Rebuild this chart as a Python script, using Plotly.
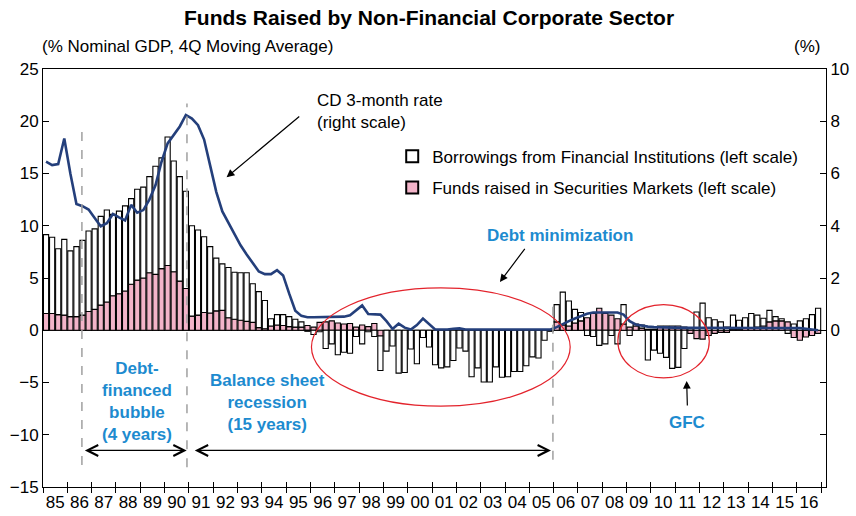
import plotly.graph_objects as go

# Quarterly data 1985Q1 .. 2016Q4 (% of nominal GDP, 4Q moving average)
years = list(range(1985, 2017))
quarters = [y + (q - 0.5) / 4 for y in years for q in range(1, 5)]

securities = [
    1.6, 1.6, 1.5, 1.45, 1.3, 1.3, 1.45, 1.8, 2.0, 2.4, 2.7, 3.3,
    3.5, 3.75, 4.4, 4.8, 5.0, 5.5, 5.35, 5.9, 6.2, 5.6, 4.7, 4.0,
    1.35, 1.45, 1.7, 1.65, 1.85, 1.9, 1.2, 1.05, 0.95, 0.85, 0.75, 0.25,
    0.15, 0.4, 0.5, 0.45, 0.35, 0.3, 0.3, 0.45, 0.3, 0.75, 0.8, 0.9,
    0.7, 0.6, 0.65, 0.3, 0.5, 0.35, 0.65, -0.55, 0.0, 0.0, 0.0, 0.0,
    0.0, 0.0, 0.0, 0.0, 0.0, 0.0, 0.0, 0.0, 0.0, 0.0, 0.0, 0.0,
    0.0, 0.0, 0.0, 0.0, 0.0, 0.0, 0.0, 0.0, 0.0, 0.0, 0.0, 0.0,
    0.8, 0.5, 0.4, 0.7, 0.9, 1.2, 1.6, 2.1, 1.6, 1.45, 1.1, 0.6,
    0.3, 0.4, 0.2, 0.1, 0.1, 0.4, 0.4, 0.4, 0.4, 0.3, -0.3, -0.8,
    -0.85, -0.5, -0.3, -0.2, -0.2, 0.1, 0.1, 0.2, 0.2, 0.3, 0.4, 0.8,
    0.9, 0.9, 0.8, -0.7, -0.95, -0.65, -0.5, -0.3,
]

borrowings = [
    7.55, 7.3, 6.3, 7.25, 6.3, 6.7, 7.15, 7.7, 7.7, 8.5, 8.8, 7.8,
    7.9, 8.15, 8.2, 8.7, 8.7, 9.2, 10.35, 10.6, 12.3, 10.6, 10.0, 9.3,
    8.65, 8.15, 7.25, 6.35, 5.05, 4.45, 4.8, 4.5, 4.55, 4.65, 3.7, 3.45,
    2.7, 0.7, 1.0, 1.05, 0.95, 0.75, 0.5, -0.1, -0.4, -0.15, -1.75, -1.3,
    -2.35, -2.1, -2.2, -0.6, -1.3, -0.15, -0.6, -3.3, -2.0, -1.5, -4.1, -4.05,
    -1.8, -3.2, -0.7, -1.6, -3.3, -3.6, -3.5, -2.9, -1.7, -2.0, -4.45, -3.6,
    -4.95, -4.95, -3.5, -4.5, -4.45, -3.95, -3.95, -3.4, -2.55, -2.65, -0.95, -0.1,
    1.65, 3.15, 2.4, 1.3, 0.8, -0.5, -0.6, -1.45, -1.3, -0.5, -1.3, 1.85,
    -0.5, 0.2, 0.3, -2.85, -1.9, -2.2, -2.6, -3.65, -3.55, -1.75, 0.15, 1.75,
    2.6, 1.2, 1.0, 0.8, 0.3, 1.35, 0.85, 1.0, 1.4, 1.15, 0.75, 1.1,
    0.4, 0.2, -0.3, 0.6, 0.9, 1.1, 1.5, 2.1,
]

cd_rate = [
    6.45, 6.32, 6.36, 7.34, 6.0, 4.83, 4.75, 4.62, 4.3, 3.98, 4.1, 4.45,
    4.32, 4.2, 4.8, 4.5, 4.6, 5.0, 5.55, 6.45, 7.15, 7.5, 7.8, 8.24,
    8.1, 7.85, 7.3, 6.3, 5.3, 4.55, 4.1, 3.65, 3.25, 2.9, 2.55, 2.25,
    2.15, 2.15, 2.3, 2.1, 1.4, 0.75, 0.55, 0.5, 0.5, 0.5, 0.5, 0.5,
    0.5, 0.52, 0.57, 0.75, 0.95, 0.62, 0.6, 0.6, 0.35, 0.05, 0.25, 0.1,
    0.03, 0.2, 0.45, 0.25, 0.03, 0.03, 0.03, 0.06, 0.07, 0.03, 0.03, 0.03,
    0.03, 0.03, 0.03, 0.03, 0.03, 0.03, 0.03, 0.03, 0.03, 0.03, 0.03, 0.03,
    0.12, 0.25, 0.35, 0.45, 0.55, 0.63, 0.68, 0.68, 0.66, 0.66, 0.68, 0.6,
    0.35, 0.22, 0.17, 0.14, 0.12, 0.11, 0.1, 0.09, 0.09, 0.09, 0.09, 0.09,
    0.09, 0.09, 0.09, 0.09, 0.09, 0.09, 0.09, 0.09, 0.08, 0.08, 0.08, 0.08,
    0.08, 0.08, 0.08, 0.08, 0.08, 0.06, 0.03, 0.0,
]

tick_labels = [f"{y % 100:02d}" for y in years]

FONT = "Liberation Sans, Arial, Helvetica, sans-serif"
BLUE = "#1D8BCF"
NAVY = "#243F7B"
PINK = "#F3B4C9"

fig = go.Figure()
fig.add_trace(go.Bar(
    x=quarters, y=securities, name="Funds raised in Securities Markets (left scale)",
    marker=dict(color=PINK, line=dict(color="black", width=1.1)),
    legendrank=2, legendgroup="b",
))
fig.add_trace(go.Bar(
    x=quarters, y=borrowings, name="Borrowings from Financial Institutions (left scale)",
    marker=dict(color="white", line=dict(color="black", width=1.1)),
    legendrank=1, legendgroup="a",
))
fig.add_trace(go.Scatter(
    x=quarters, y=cd_rate, xaxis="x2", yaxis="y2", mode="lines",
    line=dict(color=NAVY, width=2.6), showlegend=False,
))

xr = [1985, 2017.2]
fig.update_layout(
    width=856, height=516,
    margin=dict(l=43, r=30, t=69, b=29, autoexpand=False),
    plot_bgcolor="white", paper_bgcolor="white",
    font=dict(family=FONT, size=17, color="black"),
    barmode="relative", bargap=0.15,
    showlegend=True,
    legend=dict(x=0.446, y=0.833, xanchor="left", yanchor="top",
                bgcolor="rgba(0,0,0,0)", font=dict(size=17),
                tracegroupgap=6, itemsizing="constant"),
    xaxis=dict(range=xr, tickmode="array", automargin=False,
               tickvals=[y + 0.5 for y in years], ticktext=tick_labels,
               ticks="", showgrid=False, showline=True, linecolor="black",
               linewidth=1, mirror=True, zeroline=False,
               tickfont=dict(size=17),
               minor=dict(ticks="outside", ticklen=5, tick0=1985, dtick=1,
                          tickcolor="black", tickwidth=1, showgrid=False)),
    xaxis2=dict(range=xr, overlaying="x", anchor="y", side="bottom",
                automargin=False,
                tickmode="linear", tick0=1985, dtick=1, ticks="inside",
                ticklen=5, tickcolor="black", showticklabels=False,
                showline=False, showgrid=False, zeroline=False),
    yaxis=dict(range=[-15, 25], tickmode="linear", tick0=-15, dtick=5,
               automargin=False,
               ticks="inside", ticklen=6, tickcolor="black",
               showline=True, linecolor="black", linewidth=1,
               showgrid=False, zeroline=True, zerolinecolor="black",
               zerolinewidth=1, tickfont=dict(size=17)),
    yaxis2=dict(range=[-6, 10], overlaying="y", side="right", anchor="x",
                automargin=False,
                tickmode="array", tickvals=[-6, -4, -2, 0, 2, 4, 6, 8, 10],
                ticktext=["", "", "", "0", "2", "4", "6", "8", "10"],
                ticks="inside", ticklen=6, tickcolor="black",
                showline=True, linecolor="black", linewidth=1,
                showgrid=False, zeroline=False, tickfont=dict(size=17)),
)

# Title and axis captions
fig.add_annotation(text="<b>Funds Raised by Non-Financial Corporate Sector</b>",
                   xref="paper", yref="paper", x=0.493, y=1.124,
                   xanchor="center", yanchor="middle", showarrow=False,
                   font=dict(size=21))
fig.add_annotation(text="(% Nominal GDP, 4Q Moving Average)",
                   xref="paper", yref="paper", x=-0.004, y=1.053,
                   xanchor="left", yanchor="middle", showarrow=False,
                   font=dict(size=17))
fig.add_annotation(text="(%)", xref="paper", yref="paper", x=0.995, y=1.053,
                   xanchor="right", yanchor="middle", showarrow=False,
                   font=dict(size=17))

# Dashed period markers
for x0, y0, y1 in [(1986.6, -12.9, 19.3), (1990.92, -13.1, 21.7), (2005.97, -12.4, 2.9)]:
    fig.add_shape(type="line", xref="x", yref="y", x0=x0, x1=x0, y0=y0, y1=y1,
                  line=dict(color="#A0A0A0", width=1.5, dash="dash"))

# Red ellipses
fig.add_shape(type="circle", xref="x", yref="y", x0=1996.04, x1=2006.68,
              y0=-7.27, y1=4.05, line=dict(color="#E3232C", width=1.2))
fig.add_shape(type="circle", xref="x", yref="y", x0=2008.64, x1=2012.4,
              y0=-4.56, y1=2.46, line=dict(color="#E3232C", width=1.2))

# Text labels
fig.add_annotation(text="CD 3-month rate<br>(right scale)", x=1996.18, y=20.96,
                   xref="x", yref="y", xanchor="left", yanchor="middle",
                   align="left", showarrow=False, font=dict(size=17))
fig.add_annotation(text="<b>Debt minimization</b>", x=2006.26, y=9.09,
                   xref="x", yref="y", showarrow=False,
                   font=dict(size=17, color=BLUE))
fig.add_annotation(text="<b>Debt-<br>financed<br>bubble<br>(4 years)</b>",
                   x=1988.85, y=-6.85, xref="x", yref="y", showarrow=False,
                   font=dict(size=17, color=BLUE))
fig.add_annotation(text="<b>Balance sheet<br>recession<br>(15 years)</b>",
                   x=1994.25, y=-6.89, xref="x", yref="y", showarrow=False,
                   font=dict(size=17, color=BLUE))
fig.add_annotation(text="<b>GFC</b>", x=2011.48, y=-8.8, xref="x", yref="y",
                   showarrow=False, font=dict(size=17, color=BLUE))

# Arrows
arrow = dict(xref="x", yref="y", axref="x", ayref="y", text="", showarrow=True,
             arrowcolor="black", arrowwidth=1.2)
fig.add_annotation(x=1992.55, y=14.64, ax=1995.6, ay=20.57, arrowhead=2,
                   arrowsize=1.3, **arrow)
fig.add_annotation(x=2003.79, y=4.62, ax=2004.86, ay=7.94, arrowhead=2,
                   arrowsize=1.3, **arrow)
fig.add_annotation(x=2011.47, y=-4.85, ax=2011.5, ay=-7.34, arrowhead=2,
                   arrowsize=1.3, **arrow)
fig.add_annotation(x=1990.91, y=-11.5, ax=1986.66, ay=-11.5, arrowhead=5,
                   startarrowhead=5, arrowside="end+start", arrowsize=1.8,
                   startarrowsize=1.8, **arrow)
fig.add_annotation(x=2005.89, y=-11.5, ax=1991.18, ay=-11.5, arrowhead=5,
                   startarrowhead=5, arrowside="end+start", arrowsize=1.8,
                   startarrowsize=1.8, **arrow)

fig.write_html("out.html",
               config={"displayModeBar": False},
               post_script="document.body.style.margin='0';"
                           "document.body.style.padding='0';")
